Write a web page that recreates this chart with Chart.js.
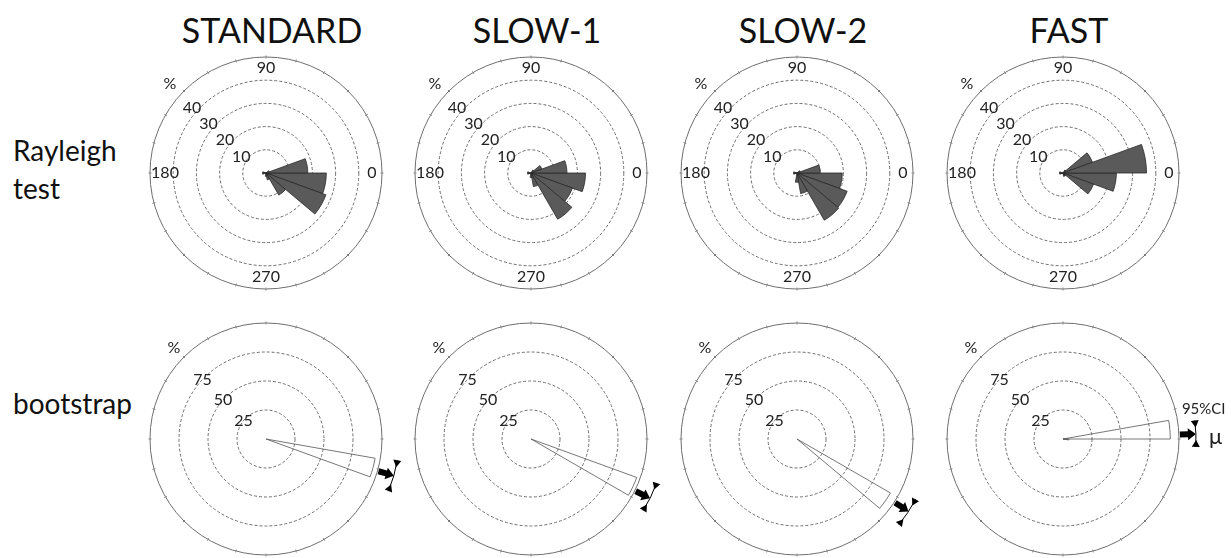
<!DOCTYPE html>
<html>
<head>
<meta charset="utf-8">
<script src="https://cdn.jsdelivr.net/npm/chart.js@4.4.0/dist/chart.umd.min.js"></script>
<style>
  body { margin: 0; width: 1231px; height: 558px; overflow: hidden; background: #fff; position: relative; font-family: Lato, "Open Sans", sans-serif; color: #111; }
  .title { position: absolute; top: 8px; width: 300px; text-align: center; font-size: 34px; line-height: 44px; }
  .rowlab { position: absolute; left: 13px; font-size: 28px; line-height: 38px; }
  canvas { position: absolute; }
</style>
</head>
<body>
<div class="title" style="left:122px">STANDARD</div>
<div class="title" style="left:387px">SLOW-1</div>
<div class="title" style="left:653px">SLOW-2</div>
<div class="title" style="left:919px">FAST</div>
<div class="rowlab" style="top:131px">Rayleigh<br>test</div>
<div class="rowlab" style="top:384px">bootstrap</div>

<canvas id="r0" width="340" height="240" style="left:96px;top:53px"></canvas>
<canvas id="r1" width="340" height="240" style="left:361px;top:53px"></canvas>
<canvas id="r2" width="340" height="240" style="left:627px;top:53px"></canvas>
<canvas id="r3" width="340" height="240" style="left:893px;top:53px"></canvas>
<canvas id="b0" width="340" height="240" style="left:96px;top:319px"></canvas>
<canvas id="b1" width="340" height="240" style="left:361px;top:319px"></canvas>
<canvas id="b2" width="340" height="240" style="left:627px;top:319px"></canvas>
<canvas id="b3" width="340" height="240" style="left:893px;top:319px"></canvas>

<script>
// Rayleigh test: % of fish per 20 deg bin, bins go 0-20, 20-40, ... 340-360 (counter-clockwise from 0)
var rayleighStandard = [18, 1.5, 0, 0, 0, 0, 0, 0, 1.5, 1.5, 0, 0, 0, 1.5, 3, 11, 27.5, 26];
var rayleighSlow1    = [15.5, 5, 1.5, 0, 0, 0, 0, 0, 1.5, 1.5, 0, 0, 0, 2, 6, 23, 19, 23.5];
var rayleighSlow2    = [10, 1.5, 0, 0, 0, 0, 0, 0, 1.5, 1.5, 0, 0, 0, 4, 9, 23.5, 23, 19.5];
var rayleighFast     = [36, 13.5, 1.5, 0, 0, 0, 0, 0, 1.5, 1.5, 0, 0, 0, 0, 1.5, 1.5, 14, 23];
var rayleighTicks = [10, 20, 30, 40];
var rayleighMax = 50;

// bootstrap: 10 deg bins, only the non empty ones (bin start, %)
var bootBins   = [[340], [330], [320], [0, 350]];
var bootValues = [[95.5], [97], [93], [92.5, 5]];
var bootMean   = [-16, -26.5, -33, 2.2];     // mean direction, deg
var bootCiLow  = [-23, -32.5, -40, -3.4];
var bootCiHigh = [-9.2, -19.3, -27, 8];
var bootTicks = [25, 50, 75];
var bootMax = 100;

var angleLabels = ['0', '90', '180', '270'];

var rad = d => d * Math.PI / 180;

// chart.js draws clockwise from startAngle, so flip the bin order
var toClockwise = vals => vals.slice().reverse();

var overlay = {
  id: 'overlay',
  afterDraw: function(chart, args, opts) {
    var s = chart.scales.r;
    var ctx = chart.ctx;
    var cx = s.xCenter, cy = s.yCenter, R = s.drawingArea;
    var pt = (deg, r) => [cx + r * Math.cos(rad(deg)), cy - r * Math.sin(rad(deg))];
    ctx.save();

    // small ticks round the rim
    ctx.strokeStyle = '#888';
    ctx.lineWidth = 1;
    for (var a = 0; a < 360; a += 15) {
      var p1 = pt(a, R - 1.5), p2 = pt(a, R + 1.5);
      ctx.beginPath(); ctx.moveTo(p1[0], p1[1]); ctx.lineTo(p2[0], p2[1]); ctx.stroke();
    }

    ctx.fillStyle = '#222';
    ctx.font = '16px Lato';
    ctx.textBaseline = 'middle';

    // ring values along 135 deg
    opts.ticks.forEach(v => {
      var p = pt(135, s.getDistanceFromCenterForValue(v));
      if (opts.top) { ctx.textAlign = 'right'; ctx.fillText(String(v), p[0] + 1, p[1]); }
      else { ctx.textAlign = 'center'; ctx.fillText(String(v), p[0] - 2, p[1] + 2); }
    });
    var pm = pt(135, R);
    ctx.textAlign = 'center';
    if (opts.top) ctx.fillText('%', pm[0] - 14, pm[1] - 7);
    else ctx.fillText('%', pm[0] - 10, pm[1] - 9);

    if (opts.top) {
      var off = [10, 11, 15, 12];
      angleLabels.forEach((t, i) => {
        var p = pt(i * 90, R - off[i]);
        ctx.fillText(t, p[0], p[1]);
      });
    }

    if (opts.mean !== undefined) {
      var m = opts.mean;
      var ux = Math.cos(rad(m)), uy = -Math.sin(rad(m));
      var nx = -uy, ny = ux;
      var b = pt(m, R + 1);
      var along = (p, d, w) => [p[0] + ux * d + nx * w, p[1] + uy * d + ny * w];
      ctx.fillStyle = '#000';
      ctx.beginPath();
      var q = [along(b, 0, -3), along(b, 8, -3), along(b, 8, -6), along(b, 16, 0),
               along(b, 8, 6), along(b, 8, 3), along(b, 0, 3)];
      ctx.moveTo(q[0][0], q[0][1]);
      q.slice(1).forEach(p => ctx.lineTo(p[0], p[1]));
      ctx.closePath(); ctx.fill();

      // 95% CI bar, heads at the ends point toward the middle
      var Rc = R + 17;
      ctx.strokeStyle = '#000'; ctx.lineWidth = 1;
      ctx.beginPath();
      ctx.arc(cx, cy, Rc, -rad(opts.ciHigh), -rad(opts.ciLow));
      ctx.stroke();
      [[opts.ciHigh, 1], [opts.ciLow, -1]].forEach(e => {
        var a = e[0], dir = e[1];
        var p = pt(a, Rc);
        var tx = Math.sin(rad(a)) * dir, ty = Math.cos(rad(a)) * dir;
        var rx = Math.cos(rad(a)), ry = -Math.sin(rad(a));
        ctx.beginPath();
        ctx.moveTo(p[0] + rx * 4, p[1] + ry * 4);
        ctx.lineTo(p[0] - rx * 4, p[1] - ry * 4);
        ctx.lineTo(p[0] + tx * 7, p[1] + ty * 7);
        ctx.closePath(); ctx.fill();
      });

      if (opts.legend) {
        var ph = pt(opts.ciHigh, Rc);
        ctx.fillStyle = '#222';
        ctx.font = '15px Lato';
        ctx.textAlign = 'center';
        ctx.fillText('95%CI', ph[0] + 9, ph[1] - 11);
        var pu = pt(m, R + 17);
        ctx.font = '22px Lato';
        ctx.textAlign = 'left';
        ctx.fillText('\u03bc', pu[0] + 13, pu[1] + 3);
      }
    }
    ctx.restore();
  }
};

function makeChart(id, labels, values, max, fill, edge, extra) {
  var ctx = document.getElementById(id).getContext('2d');
  return new Chart(ctx, {
    type: 'polarArea',
    data: {
      labels: labels,
      datasets: [{
        data: values,
        backgroundColor: fill,
        borderColor: edge,
        borderWidth: 0.8
      }]
    },
    options: {
      responsive: false,
      animation: false,
      layout: { padding: { left: 54, right: 54, top: 4, bottom: 4 } },
      scales: {
        r: {
          min: 0,
          max: max,
          startAngle: 90,
          z: 1,
          ticks: { display: false, stepSize: max === 50 ? 10 : 25 },
          pointLabels: { display: false },
          angleLines: { display: false },
          grid: { circular: true, color: '#6e6e6e', lineWidth: 1 },
          border: { dash: c => (c.tick && c.tick.value < max) ? [3, 2] : [] }
        }
      },
      plugins: {
        legend: { display: false },
        tooltip: { enabled: false },
        overlay: extra
      }
    },
    plugins: [overlay]
  });
}

var labels20 = [];
for (var i = 0; i < 18; i++) labels20.push((i * 20) + '-' + (i * 20 + 20));
var labels10 = [];
for (var i = 0; i < 36; i++) labels10.push((i * 10) + '-' + (i * 10 + 10));

var rayleigh = [rayleighStandard, rayleighSlow1, rayleighSlow2, rayleighFast];
rayleigh.forEach((vals, i) => {
  makeChart('r' + i, toClockwise(labels20), toClockwise(vals), rayleighMax, '#5a5a5a', '#2a2a2a',
    { top: true, ticks: rayleighTicks });
});

bootBins.forEach((bins, i) => {
  var vals = new Array(36).fill(0);
  bins.forEach((b, j) => { vals[b / 10] = bootValues[i][j]; });
  makeChart('b' + i, toClockwise(labels10), toClockwise(vals), bootMax, 'rgba(255,255,255,0)', '#555',
    { top: false, ticks: bootTicks, mean: bootMean[i], ciLow: bootCiLow[i], ciHigh: bootCiHigh[i], legend: i === 3 });
});
</script>
</body>
</html>
